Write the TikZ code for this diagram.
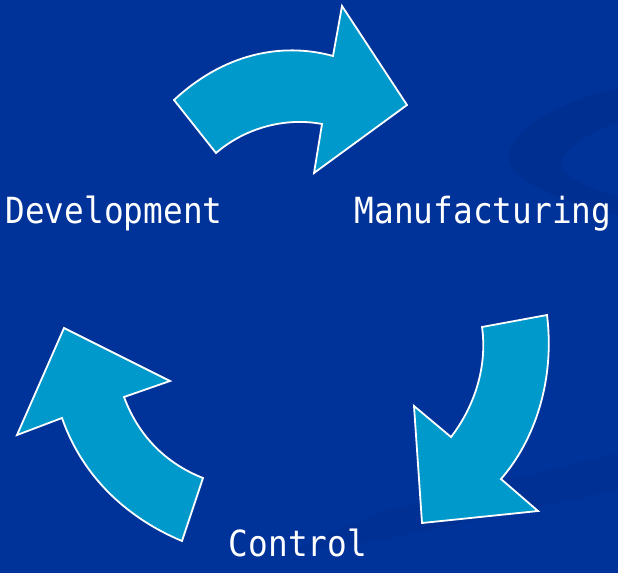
\documentclass[tikz,border=0pt]{standalone}
\usepackage{fontspec}
\newfontfamily\phasefont{DejaVu Sans Mono}
\usetikzlibrary{positioning}

\definecolor{slideblue}{RGB}{0,51,153}
\definecolor{swooshblue}{RGB}{0,43,138}
\definecolor{arrowblue}{RGB}{0,153,204}

\begin{document}
\begin{tikzpicture}[
            x = 1pt, y = -1pt, % pixel units, y runs down
            line join = miter,
            cyclearrow/.style = {fill = arrowblue, draw = white, line width = 1.8pt},
            phase/.style = {text = white, font = \phasefont\fontsize{36}{40}\selectfont,
                xscale = 0.91, inner sep = 0pt, anchor = base}
        ]

        % background
        \fill[slideblue] (0,0) rectangle (618,573);
        \useasboundingbox (0,0) rectangle (618,573);

        % faint swooshes
        \fill[swooshblue, opacity = 0.45] (618,88) .. controls (535,108) and (492,145) .. (515,172)
            .. controls (540,195) and (590,210) .. (618,215) -- (618,196)
            .. controls (585,188) and (552,172) .. (564,156)
            .. controls (576,140) and (600,128) .. (618,123) -- cycle;
        \fill[swooshblue, opacity = 0.35] (618,453) -- (618,490) -- (380,540) -- (280,556)
            -- (380,512) -- cycle;

	% labels
        \node[phase] (Dev) at (114,223) {Development};
        \node[phase] (Man) at (483,223) {Manufacturing};
        \node[phase] (Con) at (298,556) {Control};

	% development to manufacturing
        \draw[cyclearrow] (174,100) .. controls (230,48) and (290,44) .. (333,56)
            -- (342,6) -- (407,105) -- (314,173) -- (322,124)
            .. controls (285,117) and (245,128) .. (216,153) -- cycle;

	% manufacturing to control
        \draw[cyclearrow] (547,315) .. controls (555,380) and (535,440) .. (501,479)
            -- (538,511) -- (422,523) -- (414,406) -- (451,437)
            .. controls (472,410) and (488,370) .. (482,327) -- cycle;

	% control to development
        \draw[cyclearrow] (203,478) -- (182,541) .. controls (120,515) and (80,470) .. (62,418)
            -- (17,435) -- (64,328) -- (170,381) -- (124,397)
            .. controls (140,440) and (170,465) .. cycle;

\end{tikzpicture}
\end{document}
